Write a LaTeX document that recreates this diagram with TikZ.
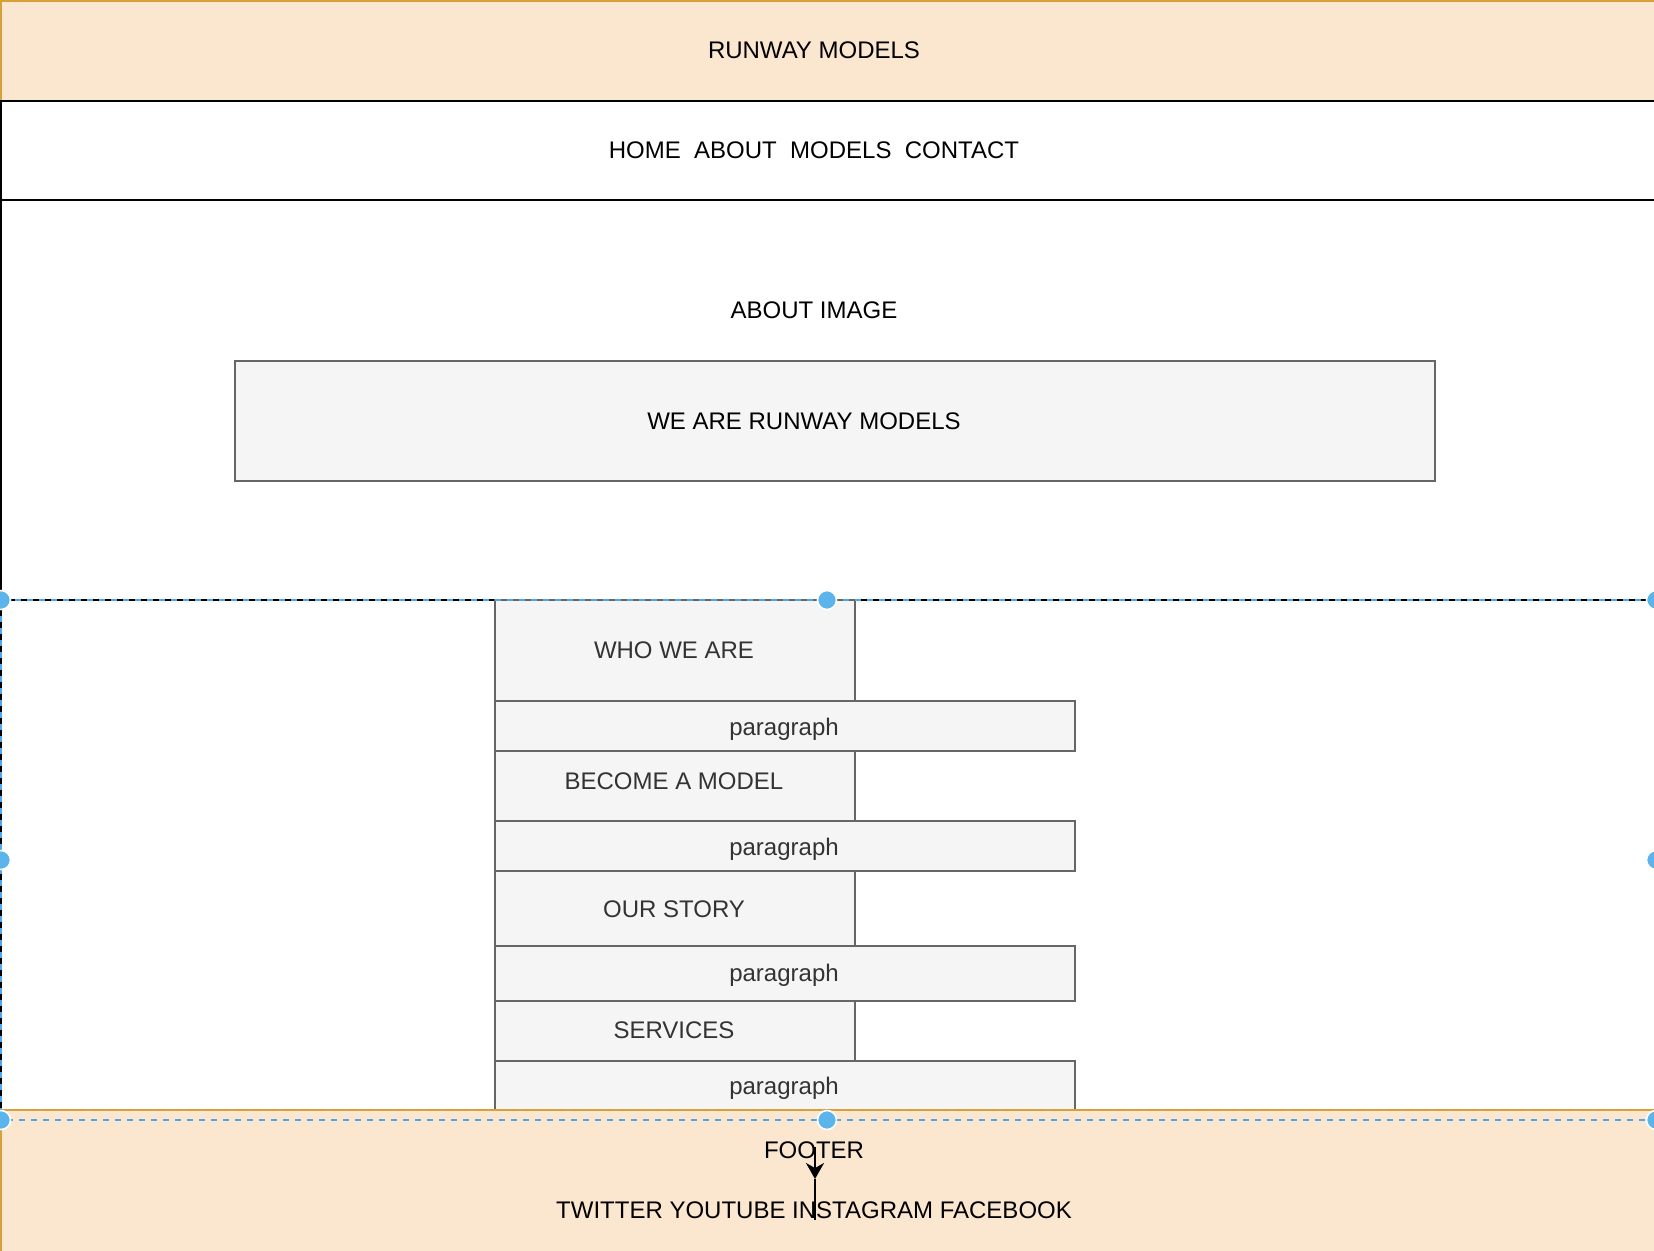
\documentclass[tikz,border=0pt]{standalone}
\usepackage{fontspec}
\setmainfont{Liberation Sans}
\usetikzlibrary{arrows.meta}
\definecolor{hdrfill}{HTML}{FBE6CF}
\definecolor{hdrline}{HTML}{D6A03A}
\definecolor{boxfill}{HTML}{F5F5F5}
\definecolor{boxline}{HTML}{666666}
\definecolor{boxtext}{HTML}{333333}
\definecolor{selblue}{HTML}{4DA6EE}
\definecolor{seldot}{HTML}{5BB5EC}
\tikzset{
  every node/.style={inner sep=0pt, outer sep=0pt},
  area/.style={draw, rectangle, anchor=north west, line width=1pt},
  orangebox/.style={area, fill=hdrfill, draw=hdrline},
  plainbox/.style={area, fill=white, draw=black},
  greybox/.style={area, fill=boxfill, draw=boxline},
  container/.style={area, draw=black, dash pattern=on 3pt off 3pt},
  selection/.style={area, draw=selblue, dash pattern=on 3pt off 3pt, dash phase=3pt},
  txt/.style={anchor=base, font=\fontsize{12}{14}\selectfont, text=black},
  gtxt/.style={txt, text=boxtext},
  seldotstyle/.style={circle, fill=seldot, draw=white, line width=0.8pt, minimum size=9.5pt},
}
\begin{document}
\begin{tikzpicture}[x=0.5pt,y=-0.5pt]
\useasboundingbox (0,0) rectangle (1654,1250);
\clip (0,0) rectangle (1654,1250);
\fill[white] (0,0) rectangle (1654,1250);
% header and nav
\node[orangebox, minimum width=860pt, minimum height=50pt] (header) at (1,1) {};
\node[plainbox, minimum width=860pt, minimum height=49.5pt] (nav) at (1,101) {};
\node[plainbox, minimum width=860pt, minimum height=200pt] (about) at (1,200) {};
\node[greybox, minimum width=600pt, minimum height=60pt] (we) at (235,361) {};
% content container
\node[container, minimum width=860pt, minimum height=255pt] (cont) at (1,600) {};
\node[greybox, minimum width=180pt, minimum height=50.5pt] (who) at (495,600) {};
\node[greybox, minimum width=290pt, minimum height=25pt] (p1) at (495,701) {};
\node[greybox, minimum width=180pt, minimum height=35pt] (become) at (495,751) {};
\node[greybox, minimum width=290pt, minimum height=25pt] (p2) at (495,821) {};
\node[greybox, minimum width=180pt, minimum height=37.5pt] (story) at (495,871) {};
\node[greybox, minimum width=290pt, minimum height=27.5pt] (p3) at (495,946) {};
\node[greybox, minimum width=180pt, minimum height=30pt] (services) at (495,1001) {};
\node[greybox, minimum width=290pt, minimum height=24.5pt] (p4) at (495,1061) {};
% footer
\node[orangebox, minimum width=860pt, minimum height=75pt] (footer) at (1,1110) {};
% texts
\node[txt] (tHeader) at (814,58) {RUNWAY MODELS};
\node[txt] (tNav) at (814,158) {HOME\ \ ABOUT\ \ MODELS\ \ CONTACT};
\node[txt] (tAbout) at (814,318) {ABOUT IMAGE};
\node[txt] (tWe) at (804,429) {WE ARE RUNWAY MODELS};
\node[gtxt] (tWho) at (674,658) {WHO WE ARE};
\node[gtxt] (tP1) at (784,735) {paragraph};
\node[gtxt] (tBecome) at (674,789) {BECOME A MODEL};
\node[gtxt] (tP2) at (784,855) {paragraph};
\node[gtxt] (tStory) at (674,917) {OUR STORY};
\node[gtxt] (tP3) at (784,981) {paragraph};
\node[gtxt] (tServices) at (674,1038) {SERVICES};
\node[gtxt] (tP4) at (784,1094) {paragraph};
\node[txt] (tFooter) at (814,1158) {FOOTER};
\node[txt] (tSocial) at (814,1218) {TWITTER YOUTUBE INSTAGRAM FACEBOOK};
% arrow
\coordinate (aStart) at (815,1147);
\coordinate (aTip) at (815,1179);
\coordinate (aEnd) at (815,1220);
\draw[line width=1pt, -{Stealth[length=8pt,width=9pt,inset=2.5pt]}] (aStart) -- (aTip);
\draw[line width=1pt] (aTip) -- (aEnd);
% selection overlay
\node[selection, minimum width=827.5pt, minimum height=260pt] (sel) at (1,600) {};
\foreach \n/\px/\py in {d1/1/600, d2/827/600, d3/1656/600, d4/1/860, d5/1656/860, d6/1/1120, d7/827/1120, d8/1656/1120}
  \node[seldotstyle] (\n) at (\px,\py) {};
\end{tikzpicture}
\end{document}
